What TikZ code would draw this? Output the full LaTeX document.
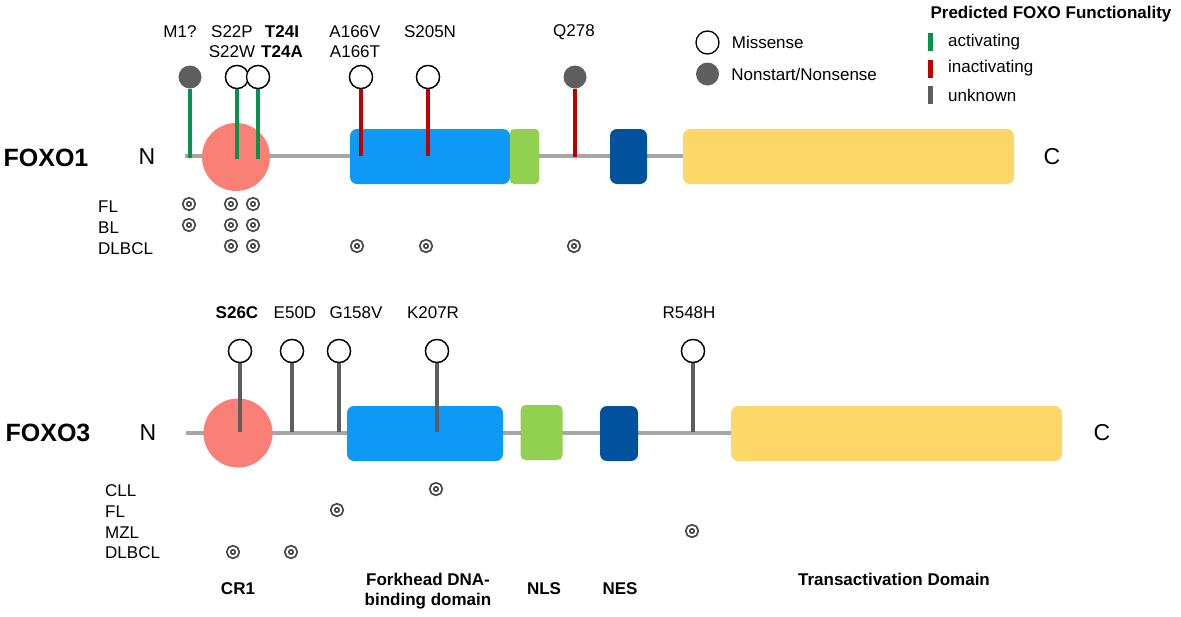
\documentclass[tikz,border=0pt]{standalone}
\usepackage{fontspec}
\setmainfont{Liberation Sans}
\usetikzlibrary{positioning}

\definecolor{backbone}{HTML}{A6A6A6}
\definecolor{cronecol}{HTML}{FA7F77}
\definecolor{fhdcol}{HTML}{0F99F6}
\definecolor{nlscol}{HTML}{92D050}
\definecolor{nescol}{HTML}{00529C}
\definecolor{tadcol}{HTML}{FDD868}
\definecolor{actgreen}{HTML}{07914A}
\definecolor{inactred}{HTML}{C00000}
\definecolor{unkgray}{HTML}{5E5E5E}

\begin{document}
\begin{tikzpicture}[x=1pt,y=-1pt,
    every node/.style={font=\fontsize{17}{20}\selectfont, inner sep=0pt},
    protname/.style={font=\fontsize{25}{28}\selectfont\bfseries},
    terminus/.style={font=\fontsize{23}{26}\selectfont},
    domainbox/.style={rounded corners=7pt, minimum height=55},
    missense/.style={circle, draw=black, line width=1.3pt, fill=white, minimum size=23},
    nonsense/.style={circle, fill=unkgray, minimum size=23},
    stemline/.style={line width=4.6pt},
    hit/.style={circle, draw=black!72, line width=1.8pt, double=white, double distance=1.9pt, minimum size=8.5},
    keybar/.style={minimum width=5, minimum height=18},
    rowlabel/.style={anchor=west},
    boldlabel/.style={font=\fontsize{17}{20}\selectfont\bfseries}]
    \useasboundingbox (0,0) rectangle (1181,616);

    % ---- FOXO1 ----
    \coordinate (bb1 start) at (185,156);
    \coordinate (bb1 end) at (690,156);
    \draw[backbone, line width=4.5pt] (bb1 start) -- (bb1 end); % backbone
    \node[protname] (FOXO1) at (46,158) {FOXO1};
    \node[terminus] (N1) at (147,157) {N};
    \node[terminus] (C1) at (1052,157) {C};
    \fill[cronecol] (236,157) circle (34); % CR1
    \node[domainbox, fill=fhdcol, minimum width=160] (FHD1) at (430,156.5) {};
    \node[domainbox, fill=nlscol, minimum width=29, rounded corners=4pt] (NLS1) at (524.5,156.5) {};
    \node[domainbox, fill=nescol, minimum width=37] (NES1) at (628.5,156.5) {};
    \node[domainbox, fill=tadcol, minimum width=331] (TAD1) at (848.5,156.5) {};

    \node[nonsense] (M1) at (190,77) {};
    \node[missense] (S22) at (237,77) {};
    \node[missense] (T24) at (258,77) {};
    \node[missense] (A166) at (361,77) {};
    \node[missense] (S205) at (428,77) {};
    \node[nonsense] (Q278) at (575,77) {};
    \coordinate (M1 base) at (190,158);
    \coordinate (S22 base) at (237,159);
    \coordinate (T24 base) at (258,159);
    \coordinate (A166 base) at (361,156);
    \coordinate (S205 base) at (428,156);
    \coordinate (Q278 base) at (575,157);
    \draw[stemline, actgreen] (M1.south) -- (M1 base);
    \draw[stemline, actgreen] (S22.south) -- (S22 base);
    \draw[stemline, actgreen] (T24.south) -- (T24 base);
    \draw[stemline, inactred] (A166.south) -- (A166 base);
    \draw[stemline, inactred] (S205.south) -- (S205 base);
    \draw[stemline, inactred] (Q278.south) -- (Q278 base);
    \node[missense] at (S22) {};
    \node[missense] at (T24) {};
    \node[missense] at (A166) {};
    \node[missense] at (S205) {};

    \node (lab M1) at (180,32) {M1?};
    \node[align=center] (lab S22) at (232,42) {S22P\\S22W};
    \node[align=center, boldlabel] (lab T24) at (282,42) {T24I\\T24A};
    \node[align=center] (lab A166) at (355,42) {A166V\\A166T};
    \node (lab S205) at (430,32) {S205N};
    \node (lab Q278) at (574,32) {Q278};

    \node[rowlabel] (FL1) at (98,207) {FL};
    \node[rowlabel] (BL1) at (98,228) {BL};
    \node[rowlabel] (DLBCL1) at (98,249) {DLBCL};
    \foreach \x in {189,231,253} {
        \node[hit] (fl1-\x) at (\x,204) {};
        \node[hit] (bl1-\x) at (\x,225) {};
    }
    \foreach \x in {231,253,357,426,574}
        \node[hit] (dl1-\x) at (\x,246) {};

    % ---- legend ----
    \node[missense] (key mis) at (707.5,42.5) {};
    \node[nonsense] (key non) at (707.5,74) {};
    \node[right=12pt of key mis] (key mis txt) {Missense};
    \node[right=12pt of key non] (key non txt) {Nonstart/Nonsense};
    \node[boldlabel] (key title) at (1051,14) {Predicted FOXO Functionality};
    \node[keybar, fill=actgreen] (key act) at (930.5,42) {};
    \node[keybar, fill=inactred] (key inact) at (930.5,69) {};
    \node[keybar, fill=unkgray] (key unk) at (930.5,95) {};
    \node[rowlabel] (key act txt) at (948,42) {activating};
    \node[rowlabel] (key inact txt) at (948,68) {inactivating};
    \node[rowlabel] (key unk txt) at (948,95) {unknown};

    % ---- FOXO3 ----
    \coordinate (bb3 start) at (186,433);
    \coordinate (bb3 end) at (735,433);
    \draw[backbone, line width=4.5pt] (bb3 start) -- (bb3 end); % backbone
    \node[protname] (FOXO3) at (48,433) {FOXO3};
    \node[terminus] (N3) at (148,433) {N};
    \node[terminus] (C3) at (1102,433) {C};
    \fill[cronecol] (238,433) circle (34.5); % CR1
    \node[domainbox, fill=fhdcol, minimum width=156] (FHD3) at (425,433.5) {};
    \node[domainbox, fill=nlscol, minimum width=42, rounded corners=5pt] (NLS3) at (541.5,432.5) {};
    \node[domainbox, fill=nescol, minimum width=38] (NES3) at (619,433.5) {};
    \node[domainbox, fill=tadcol, minimum width=331] (TAD3) at (896.5,433.5) {};

    \node[missense] (S26) at (240,351) {};
    \node[missense] (E50) at (292,351) {};
    \node[missense] (G158) at (339,351) {};
    \node[missense] (K207) at (437,351) {};
    \node[missense] (R548) at (693,351) {};
    \foreach \m in {S26,E50,G158,K207,R548}
        \coordinate (base-\m) at (\m.south |- 0,432);
    \foreach \m in {S26,E50,G158,K207,R548} {
        \draw[stemline, unkgray] (\m.south) -- (base-\m);
        \node[missense] at (\m) {};
    }

    \node[boldlabel] (lab S26) at (237,313) {S26C};
    \node (lab E50) at (295,313) {E50D};
    \node (lab G158) at (356,313) {G158V};
    \node (lab K207) at (433,313) {K207R};
    \node (lab R548) at (689,313) {R548H};

    \node[rowlabel] (CLL3) at (105,491) {CLL};
    \node[rowlabel] (FL3) at (105,512) {FL};
    \node[rowlabel] (MZL3) at (105,533) {MZL};
    \node[rowlabel] (DLBCL3) at (105,553) {DLBCL};
    \node[hit] (cll3-436) at (436,489) {};
    \node[hit] (fl3-337) at (337,510) {};
    \node[hit] (mzl3-692) at (692,531) {};
    \node[hit] (dl3-233) at (233,552) {};
    \node[hit] (dl3-291) at (291,552) {};

    % domain names
    \node[boldlabel] (name CR1) at (238,589) {CR1};
    \node[boldlabel, align=center] (name FHD) at (428,591) {Forkhead DNA-\\binding domain};
    \node[boldlabel] (name NLS) at (544,589) {NLS};
    \node[boldlabel] (name NES) at (620,589) {NES};
    \node[boldlabel] (name TAD) at (894,579) {Transactivation Domain};
\end{tikzpicture}
\end{document}
